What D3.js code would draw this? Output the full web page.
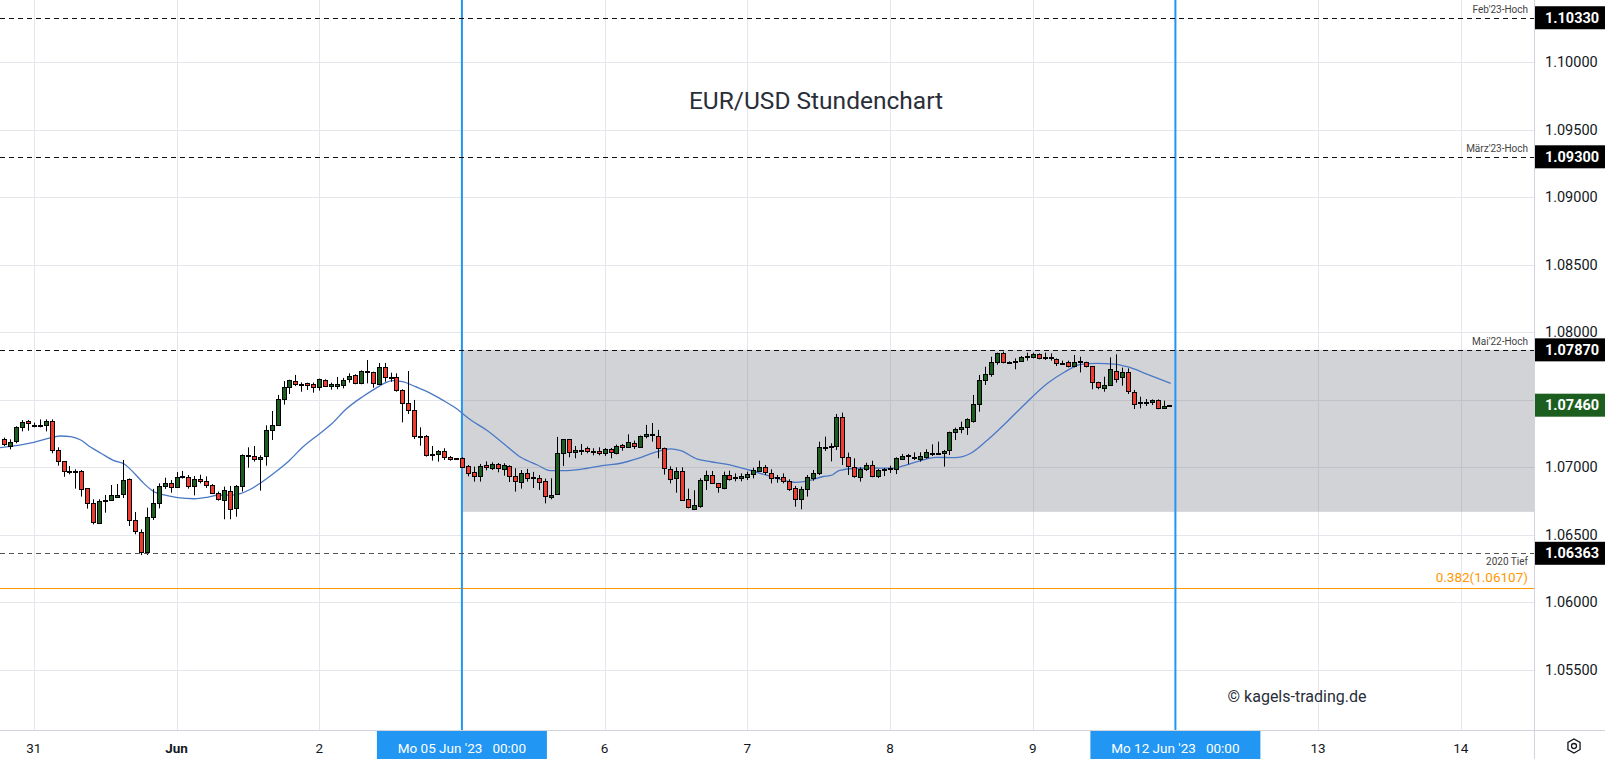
<!DOCTYPE html>
<html><head><meta charset="utf-8">
<script src="https://cdn.jsdelivr.net/npm/d3@7"></script>
<style>html,body{margin:0;padding:0;background:#fff;overflow:hidden}svg{display:block;font-family:Roboto,"Liberation Sans",sans-serif}</style>
</head><body><svg id="c" width="1605" height="759"></svg>
<script>
// ---------- DATA (hourly candles, slot 0 = 30 May 19:00) ----------
const opens=[1.0721,1.07153,1.0719,1.07296,1.07343,1.07316,1.07311,1.07311,1.07343,1.07126,1.07044,1.06975,1.0697,1.0697,1.06844,1.06733,1.0659,1.06755,1.06755,1.06783,1.06797,1.06911,1.06607,1.06518,1.0637,1.06629,1.06733,1.06859,1.06881,1.06852,1.06926,1.06928,1.06859,1.06911,1.06896,1.06867,1.06807,1.06763,1.06827,1.06696,1.06857,1.07084,1.07081,1.07059,1.07079,1.07274,1.07311,1.07504,1.07592,1.07637,1.0762,1.07622,1.07615,1.0759,1.07644,1.07602,1.07605,1.07607,1.07654,1.07681,1.07622,1.07706,1.07703,1.07615,1.07741,1.07669,1.07666,1.0757,1.07474,1.07422,1.07229,1.07229,1.07101,1.07096,1.07118,1.07076,1.07066,1.07066,1.07007,1.06963,1.06933,1.07015,1.06993,1.07022,1.06985,1.07007,1.06933,1.06889,1.06956,1.06928,1.06919,1.06896,1.06775,1.068,1.07104,1.07207,1.07111,1.07123,1.07141,1.07123,1.07121,1.07104,1.07136,1.07104,1.07165,1.07148,1.07178,1.07151,1.0723,1.07244,1.0723,1.07141,1.06988,1.06919,1.06973,1.06765,1.06689,1.06714,1.06906,1.06943,1.06881,1.0685,1.06943,1.06928,1.06918,1.06926,1.06948,1.06975,1.07,1.0696,1.0693,1.06928,1.06896,1.06844,1.06763,1.06837,1.06918,1.06955,1.07146,1.0715,1.07158,1.0737,1.07074,1.07,1.06923,1.06985,1.07015,1.0693,1.0698,1.0699,1.06985,1.07064,1.07084,1.07069,1.07064,1.07074,1.07096,1.07101,1.07104,1.07128,1.07259,1.07281,1.07296,1.07345,1.07469,1.07647,1.07689,1.07778,1.07844,1.07782,1.0779,1.07785,1.07824,1.07814,1.07837,1.07816,1.07814,1.078,1.07775,1.07778,1.0775,1.07785,1.07778,1.0775,1.07629,1.07585,1.0761,1.07716,1.07666,1.07703,1.0756,1.07481,1.07481,1.07481,1.07499,1.07437,1.07457];
const highs=[1.0722,1.07207,1.07304,1.0735,1.0735,1.07331,1.07355,1.07355,1.07355,1.07148,1.07044,1.0701,1.06985,1.0698,1.06844,1.06763,1.06763,1.06795,1.06869,1.06876,1.07054,1.06918,1.06669,1.0654,1.06701,1.0684,1.06881,1.06923,1.06906,1.06965,1.06973,1.06943,1.06935,1.06945,1.06933,1.06876,1.0682,1.06857,1.06862,1.06869,1.07096,1.07148,1.07158,1.07089,1.07311,1.07417,1.07536,1.07639,1.07649,1.07684,1.07629,1.07627,1.07627,1.07657,1.07652,1.07627,1.07669,1.07662,1.07696,1.07689,1.07718,1.07795,1.07708,1.07773,1.07773,1.07701,1.07696,1.07578,1.07713,1.07499,1.07296,1.07239,1.07158,1.07128,1.07141,1.07084,1.07069,1.07074,1.07017,1.07005,1.07025,1.07044,1.07037,1.07032,1.0703,1.07015,1.06993,1.0698,1.06988,1.06966,1.06943,1.06916,1.06919,1.07225,1.07209,1.07209,1.07158,1.07173,1.07153,1.07141,1.07148,1.07143,1.07143,1.07168,1.07173,1.07244,1.07198,1.07235,1.07314,1.07328,1.07277,1.07146,1.07007,1.07,1.07,1.06842,1.0683,1.06919,1.06975,1.06973,1.06881,1.06968,1.06975,1.06955,1.06955,1.06968,1.06997,1.07049,1.07017,1.06985,1.06943,1.06955,1.06911,1.06862,1.06857,1.06943,1.0698,1.0719,1.07227,1.07178,1.07395,1.07405,1.07109,1.07066,1.07,1.07034,1.07049,1.06987,1.06995,1.07012,1.07074,1.07099,1.07099,1.07111,1.07111,1.07133,1.0717,1.0719,1.07128,1.07264,1.07294,1.07338,1.07363,1.07536,1.07684,1.07745,1.07819,1.07849,1.07857,1.07785,1.07807,1.07824,1.07849,1.07849,1.07844,1.07849,1.07844,1.07807,1.0779,1.0779,1.07832,1.07819,1.07782,1.0775,1.07634,1.07671,1.07814,1.07837,1.07738,1.07733,1.07573,1.07523,1.07506,1.07503,1.07503,1.07494,1.07462];
const lows=[1.07158,1.07133,1.07178,1.07266,1.07271,1.07296,1.07296,1.07266,1.07104,1.07012,1.0693,1.06948,1.06842,1.06783,1.06694,1.06578,1.06585,1.06664,1.0675,1.06783,1.06773,1.06565,1.06504,1.0635,1.0635,1.0661,1.06696,1.0684,1.06812,1.0685,1.06916,1.06842,1.06792,1.06881,1.06847,1.06802,1.06753,1.06615,1.06615,1.06634,1.0682,1.06997,1.07042,1.06827,1.07012,1.07202,1.07306,1.07464,1.07543,1.07602,1.0756,1.07573,1.07553,1.07568,1.07597,1.07575,1.07578,1.07585,1.07627,1.07615,1.07615,1.07622,1.0759,1.0761,1.07634,1.07634,1.0756,1.07333,1.07395,1.0721,1.0716,1.07079,1.07049,1.07042,1.07054,1.07049,1.07059,1.06997,1.06933,1.06894,1.06894,1.06978,1.0698,1.06963,1.06938,1.06891,1.0682,1.06842,1.06894,1.06847,1.06832,1.06733,1.06763,1.06795,1.0701,1.07074,1.07067,1.07091,1.07104,1.07089,1.07089,1.07084,1.07067,1.07096,1.07123,1.07143,1.07136,1.07146,1.07215,1.0719,1.07067,1.06946,1.06881,1.06812,1.06753,1.06696,1.06684,1.06701,1.06832,1.06876,1.06812,1.06837,1.06901,1.06896,1.06896,1.06906,1.06918,1.06968,1.06943,1.06881,1.06886,1.06881,1.06825,1.06708,1.06689,1.06783,1.06901,1.06943,1.07121,1.07044,1.07128,1.07017,1.06943,1.06923,1.06894,1.06973,1.06926,1.06921,1.06935,1.06958,1.0695,1.07054,1.07022,1.07054,1.07042,1.07064,1.07084,1.07091,1.07005,1.07091,1.07202,1.07252,1.0724,1.07331,1.07412,1.0761,1.07671,1.0776,1.0777,1.07775,1.07726,1.07782,1.0779,1.07807,1.078,1.07795,1.0779,1.0775,1.07758,1.0774,1.0774,1.07703,1.0774,1.07578,1.07578,1.0756,1.07605,1.07627,1.07605,1.07543,1.07432,1.07437,1.07454,1.07461,1.0743,1.07432,1.07455];
const closes=[1.0717,1.07185,1.07296,1.07336,1.07326,1.07311,1.07313,1.07343,1.07126,1.07044,1.0697,1.0697,1.06973,1.06837,1.06733,1.0659,1.0675,1.0676,1.06792,1.06795,1.06903,1.06607,1.06526,1.0637,1.06629,1.06733,1.06859,1.06881,1.06852,1.06928,1.06933,1.06859,1.06911,1.06894,1.06867,1.06807,1.06763,1.06835,1.06696,1.06862,1.07089,1.07089,1.07059,1.07076,1.07274,1.07311,1.07504,1.07592,1.07644,1.07615,1.07617,1.07607,1.0759,1.07652,1.07602,1.07617,1.0762,1.07644,1.07674,1.07622,1.07711,1.07711,1.07622,1.07741,1.07664,1.07664,1.0757,1.07474,1.07422,1.07229,1.07224,1.07089,1.07094,1.07118,1.07074,1.07062,1.07062,1.07002,1.06955,1.06931,1.07007,1.07,1.07025,1.06993,1.07015,1.06933,1.06896,1.06956,1.06919,1.06919,1.06889,1.06783,1.06793,1.07104,1.07207,1.07111,1.07128,1.07128,1.07116,1.07121,1.07104,1.07133,1.07111,1.07156,1.07148,1.07188,1.07153,1.0723,1.07244,1.07237,1.07141,1.06993,1.06911,1.06973,1.0676,1.06704,1.0672,1.06906,1.06943,1.06881,1.06852,1.06943,1.06911,1.06926,1.06935,1.06948,1.0698,1.07002,1.06963,1.06926,1.06921,1.06896,1.06837,1.06763,1.06837,1.06928,1.06955,1.0715,1.07153,1.07158,1.0737,1.07074,1.07005,1.0693,1.06985,1.07015,1.0693,1.06978,1.06985,1.06995,1.07066,1.07084,1.07091,1.07076,1.07084,1.07111,1.07104,1.07109,1.07118,1.07259,1.07284,1.07296,1.07355,1.07469,1.07647,1.07689,1.07778,1.07844,1.07778,1.07778,1.07787,1.07814,1.07821,1.07837,1.07807,1.07814,1.07812,1.0777,1.07773,1.0775,1.07778,1.07782,1.0775,1.07629,1.0759,1.0761,1.07726,1.07659,1.07703,1.0756,1.07474,1.07479,1.07479,1.07499,1.07437,1.07454,1.0746];

// moving average (slot, value)
const maSlots=[-0.7,5,7.9,9.5,11.2,12.9,14.6,16.3,18.5,20.2,21.9,23.5,25.2,26.9,29.2,32,34.2,35.9,38.7,41.2,43.2,45.7,47.9,50.2,53,55.2,57.5,60.3,62.5,64.2,65.3,67,69.2,71.5,73.7,76,78.5,81.3,84.1,86.9,89.7,91.9,94.2,97,100.9,103.7,106.5,109.3,112.1,113.8,116.6,118.9,121.4,125.3,128.1,130.9,133.1,135.4,137.6,139.3,140.4,143.2,146,149.4,151.7,154.5,156.7,159.8,162.6,165.4,168.7,172.1,175.5,178.3,181.1,183.9,186.7,188.9,192.3,196.2];
const maValues=[1.07145,1.07185,1.07219,1.07232,1.07227,1.07202,1.07148,1.07104,1.07049,1.07024,1.06956,1.06881,1.06819,1.06795,1.06775,1.06767,1.06778,1.06793,1.06795,1.06832,1.06886,1.06967,1.07047,1.07148,1.07247,1.07326,1.0743,1.07523,1.07585,1.07627,1.07642,1.07635,1.07597,1.07553,1.07499,1.07437,1.0735,1.07271,1.07173,1.07074,1.07017,1.06975,1.06975,1.06985,1.07015,1.0703,1.07064,1.07108,1.07136,1.07123,1.07061,1.07041,1.07024,1.0698,1.06943,1.06906,1.06889,1.06901,1.0693,1.06943,1.06975,1.06993,1.06995,1.06993,1.07017,1.07054,1.07074,1.07071,1.07104,1.07202,1.07338,1.07486,1.07622,1.07704,1.07763,1.0777,1.07765,1.07745,1.07689,1.07622];

const dayLabels=["31","Jun","2","6","7","8","9","13","14"];
const daySlots=[5,29,53,101,125,149,173,221,245];
const markerSlots=[77,197];
const markerLabels=["Mo 05 Jun '23   00:00","Mo 12 Jun '23   00:00"];
const priceTicks=[1.055,1.06,1.065,1.07,1.075,1.08,1.085,1.09,1.095,1.10];
const levelValues=[1.1033,1.093,1.0787,1.06363];
const levelNames=["Feb'23-Hoch","März'23-Hoch","Mai'22-Hoch","2020 Tief"];
const fibValue=1.06107, fibLabel="0.382(1.06107)";
const lastPrice=1.0746;
const zoneTop=1.0787, zoneBottom=1.0667, zoneStartSlot=77;

// ---------- LAYOUT ----------
const W=1605,H=759,plotR=1534,plotB=730;
const svg=d3.select("#c");
const x=d3.scaleLinear().domain([5,245]).range([33.8,1460.8]);
const y=d3.scaleLinear().domain([1.07,1.10]).range([467.3,62.3]);

svg.append("rect").attr("width",W).attr("height",H).attr("fill","#fff");
svg.append("defs").append("clipPath").attr("id","plot").append("rect").attr("width",plotR).attr("height",plotB);
const plot=svg.append("g").attr("clip-path","url(#plot)");

// grid
plot.selectAll(".vg").data(daySlots.concat(markerSlots)).join("line")
  .attr("x1",d=>Math.round(x(d))+0.5).attr("x2",d=>Math.round(x(d))+0.5).attr("y1",0).attr("y2",plotB)
  .attr("stroke","#e4e6ec").attr("stroke-width",1);
plot.selectAll(".hg").data(priceTicks).join("line")
  .attr("x1",0).attr("x2",plotR).attr("y1",d=>Math.round(y(d))+0.5).attr("y2",d=>Math.round(y(d))+0.5)
  .attr("stroke","#e4e6ec").attr("stroke-width",1);

// zone
plot.append("rect").attr("x",x(zoneStartSlot)).attr("width",plotR-x(zoneStartSlot))
  .attr("y",y(zoneTop)).attr("height",y(zoneBottom)-y(zoneTop))
  .attr("fill","rgba(118,120,134,0.33)");

// orange fib line
plot.append("line").attr("x1",0).attr("x2",plotR).attr("y1",Math.round(y(fibValue))+0.5).attr("y2",Math.round(y(fibValue))+0.5)
  .attr("stroke","#ff9800").attr("stroke-width",1);

// blue vertical markers
plot.selectAll(".bl").data(markerSlots).join("line")
  .attr("x1",d=>x(d)).attr("x2",d=>x(d)).attr("y1",0).attr("y2",plotB)
  .attr("stroke","#2196f3").attr("stroke-width",2);

// MA
const maData=maSlots.map((s,i)=>[s,maValues[i]]);
plot.append("path").datum(maData)
  .attr("d",d3.line().x(d=>x(d[0])).y(d=>y(d[1])).curve(d3.curveMonotoneX))
  .attr("fill","none").attr("stroke","#4a78c6").attr("stroke-width",1.3);

// candles
const candles=opens.map((o,i)=>({i,o,h:highs[i],l:lows[i],c:closes[i]}));
const cg=plot.append("g");
cg.selectAll(".w").data(candles).join("line")
  .attr("x1",d=>Math.round(x(d.i))+0.5).attr("x2",d=>Math.round(x(d.i))+0.5)
  .attr("y1",d=>y(d.h)).attr("y2",d=>y(d.l)).attr("stroke","#000").attr("stroke-width",1);
cg.selectAll(".b").data(candles).join("rect")
  .attr("x",d=>Math.round(x(d.i))-1.5).attr("width",4)
  .attr("y",d=>Math.round(Math.min(y(d.o),y(d.c)))+0.5)
  .attr("height",d=>Math.max(1,Math.round(Math.abs(y(d.o)-y(d.c)))))
  .attr("fill",d=>d.c>=d.o?"#1b5e20":"#f23b2f").attr("stroke","#000").attr("stroke-width",1);

// dashed levels
plot.selectAll(".lv").data(levelValues).join("line")
  .attr("x1",0).attr("x2",plotR).attr("y1",d=>Math.round(y(d))+0.5).attr("y2",d=>Math.round(y(d))+0.5)
  .attr("stroke",(d,i)=>i===3?"#555":"#111").attr("stroke-width",1.2).attr("stroke-dasharray","5,4");
svg.selectAll(".lvt").data(levelValues).join("text")
  .attr("x",1528).attr("y",(d,i)=>i===3?y(d)+12:y(d)-5)
  .attr("text-anchor","end").attr("font-size",10).attr("fill","#444")
  .text((d,i)=>levelNames[i]);
svg.append("text").attr("x",1528).attr("y",y(fibValue)-6).attr("text-anchor","end")
  .attr("font-size",13.5).attr("fill","#ff9800").text(fibLabel);

// title & watermark
svg.append("text").attr("x",816).attr("y",109).attr("text-anchor","middle").attr("font-size",24.5)
  .attr("fill","#2a2e39").text("EUR/USD Stundenchart");
svg.append("text").attr("x",1297).attr("y",702).attr("text-anchor","middle").attr("font-size",16)
  .attr("fill","#2a2e39").text("© kagels-trading.de");

// axes borders
svg.append("line").attr("x1",plotR+0.5).attr("x2",plotR+0.5).attr("y1",0).attr("y2",H).attr("stroke","#d1d4dc");
svg.append("line").attr("x1",0).attr("x2",W).attr("y1",plotB+0.5).attr("y2",plotB+0.5).attr("stroke","#d1d4dc");

// right axis labels
const boxValues=levelValues.concat([lastPrice]);
svg.selectAll(".pt").data(priceTicks.filter(v=>boxValues.every(b=>Math.abs(y(v)-y(b))>=14))).join("text")
  .attr("x",1545).attr("y",d=>y(d)+5).attr("font-size",14.5).attr("fill","#131722")
  .text(d=>d.toFixed(5));
const boxes=svg.selectAll(".bx").data(boxValues).join("g");
boxes.append("rect").attr("x",plotR+1).attr("width",W-plotR-1).attr("y",d=>y(d)-11.5).attr("height",23)
  .attr("fill",d=>d===lastPrice?"#1b5e20":"#000");
boxes.append("text").attr("x",1545).attr("y",d=>y(d)+5).attr("font-size",14.5).attr("font-weight","bold")
  .attr("fill","#fff").text(d=>d.toFixed(5));

// bottom axis
svg.selectAll(".dl").data(daySlots).join("text")
  .attr("x",d=>x(d)).attr("y",753).attr("text-anchor","middle").attr("font-size",13.5)
  .attr("font-weight",(d,i)=>dayLabels[i]==="Jun"?"bold":"normal").attr("fill","#131722")
  .text((d,i)=>dayLabels[i]);
const mk=svg.selectAll(".mk").data(markerSlots).join("g");
mk.append("rect").attr("x",d=>x(d)-85).attr("width",170).attr("y",plotB+1).attr("height",H-plotB-1).attr("fill","#2196f3");
mk.append("text").attr("x",d=>x(d)).attr("y",753).attr("text-anchor","middle").attr("font-size",13.5)
  .attr("fill","#fff").attr("xml:space","preserve").style("white-space","pre").text((d,i)=>markerLabels[i]);

// settings icon
const gi=svg.append("g").attr("transform","translate(1574,746)");
gi.append("path").attr("d",d3.range(6).map(k=>{const a=Math.PI/3*k+Math.PI/6;return (k?"L":"M")+(7*Math.cos(a)).toFixed(2)+","+(7*Math.sin(a)).toFixed(2);}).join("")+"Z")
  .attr("fill","none").attr("stroke","#131722").attr("stroke-width",1.3);
gi.append("circle").attr("r",2.5).attr("fill","none").attr("stroke","#131722").attr("stroke-width",1.3);
</script></body></html>
